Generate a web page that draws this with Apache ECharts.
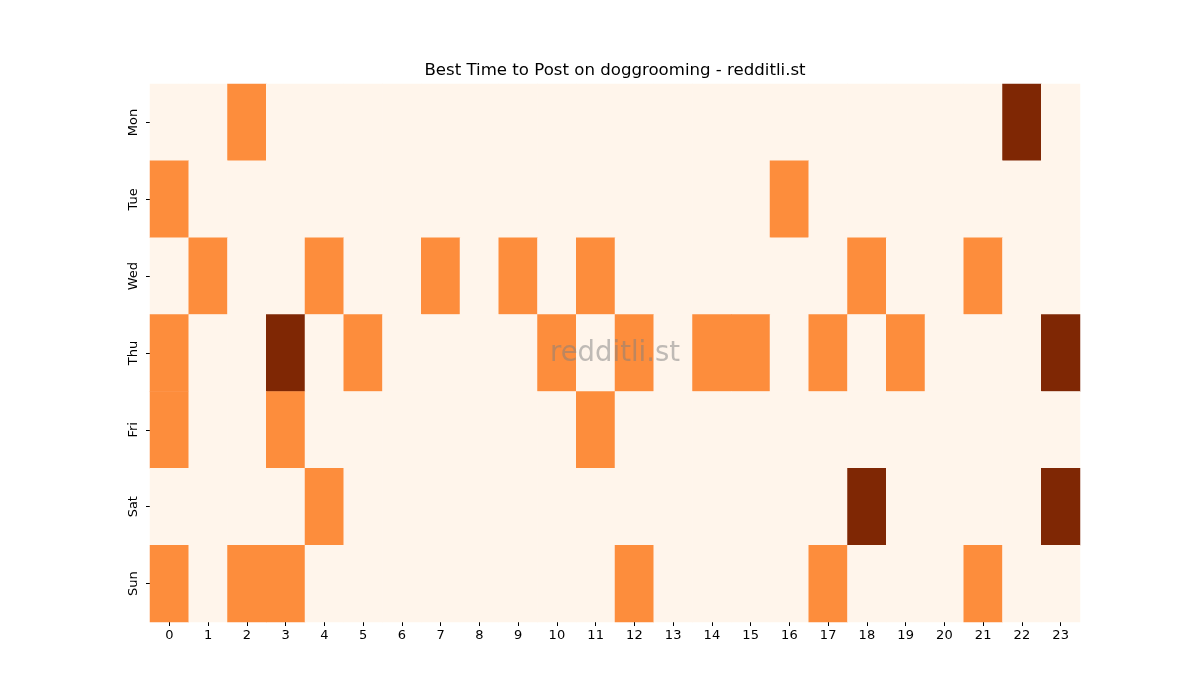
<!DOCTYPE html>
<html lang="en">
<head>
    <meta charset="UTF-8">
    <title>Best Time to Post</title>
    <script src="https://cdn.jsdelivr.net/npm/echarts@6/dist/echarts.min.js"></script>
</head>
<body style="margin:0">
<div id="main" style="width: 1200px;height:700px;"></div>
<script type="text/javascript">
    var hours = ['0','1','2','3','4','5','6','7','8','9','10','11','12','13','14','15','16','17','18','19','20','21','22','23'];
    var days = ['Mon', 'Tue', 'Wed', 'Thu', 'Fri', 'Sat', 'Sun'];
    // one row per day, one value per hour
    var mon = [0,0,1,0,0,0,0,0,0,0,0,0,0,0,0,0,0,0,0,0,0,0,2,0];
    var tue = [1,0,0,0,0,0,0,0,0,0,0,0,0,0,0,0,1,0,0,0,0,0,0,0];
    var wed = [0,1,0,0,1,0,0,1,0,1,0,1,0,0,0,0,0,0,1,0,0,1,0,0];
    var thu = [1,0,0,2,0,1,0,0,0,0,1,0,1,0,1,1,0,1,0,1,0,0,0,2];
    var fri = [1,0,0,1,0,0,0,0,0,0,0,1,0,0,0,0,0,0,0,0,0,0,0,0];
    var sat = [0,0,0,0,1,0,0,0,0,0,0,0,0,0,0,0,0,0,2,0,0,0,0,2];
    var sun = [1,0,1,1,0,0,0,0,0,0,0,0,1,0,0,0,0,1,0,0,0,1,0,0];
    var rows = [mon, tue, wed, thu, fri, sat, sun];

    var data = [];
    for (var d = 0; d < rows.length; d++) {
        for (var h = 0; h < rows[d].length; h++) {
            data.push([h, d, rows[d][h]]);
        }
    }

    var myChart = echarts.init(document.getElementById('main'));
    var font = 'DejaVu Sans';
    var option = {
        backgroundColor: '#fff',
        animation: false,
        grid: {left: 150, right: 120, top: 84, bottom: 78},
        xAxis: {
            type: 'category',
            data: hours,
            axisLine: {show: false},
            axisTick: {show: true, alignWithLabel: true, length: 4, lineStyle: {color: '#000'}},
            axisLabel: {fontFamily: font, fontSize: 13, color: '#000', margin: 7},
            splitArea: {show: false}
        },
        yAxis: {
            type: 'category',
            data: days,
            inverse: true,
            axisLine: {show: false},
            axisTick: {show: true, alignWithLabel: true, length: 4, lineStyle: {color: '#000'}},
            axisLabel: {fontFamily: font, fontSize: 13, color: '#000', rotate: 90, margin: 10}
        },
        visualMap: {
            type: 'piecewise',
            show: false,
            dimension: 2,
            pieces: [
                {value: 0, color: '#fff5eb'},
                {value: 1, color: '#fd8d3c'},
                {value: 2, color: '#7f2704'}
            ]
        },
        graphic: [{
            type: 'text',
            x: 615,
            y: 71,
            z: 100,
            style: {
                text: 'Best Time to Post on doggrooming - redditli.st',
                fontFamily: font,
                fontSize: 16.6,
                fill: '#000',
                textAlign: 'center',
                textVerticalAlign: 'middle'
            }
        }, {
            type: 'text',
            x: 615,
            y: 354,
            z: 100,
            style: {
                text: 'redditli.st',
                fontFamily: font,
                fontSize: 27.5,
                fill: 'rgba(128,128,128,0.5)',
                textAlign: 'center',
                textVerticalAlign: 'middle'
            }
        }],
        series: [{
            type: 'heatmap',
            data: data,
            itemStyle: {borderWidth: 0},
            emphasis: {disabled: true}
        }]
    };
    myChart.setOption(option);
</script>
</body>
</html>
